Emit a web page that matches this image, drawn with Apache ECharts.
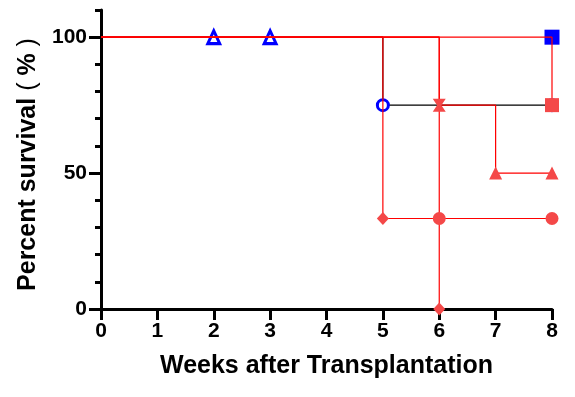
<!DOCTYPE html>
<html>
<head>
<meta charset="utf-8">
<script src="https://cdn.jsdelivr.net/npm/echarts@6/dist/echarts.min.js"></script>
<style>
  html, body { margin: 0; padding: 0; background: #fff; }
  #survivalChart { width: 575px; height: 397px; }
</style>
</head>
<body>
<div id="survivalChart"></div>
<script>
  // x axis: weeks 0..8, y axis: percent 0..110
  const weekTicks = [0, 1, 2, 3, 4, 5, 6, 7, 8]
  const percentLabels = [0, 50, 100]

  // step lines (Kaplan-Meier style), [week, percent]
  const blackSteps = [[0, 100], [5, 75], [8, 75]]
  const diamondSteps = [[0, 100], [5, 33.3], [6, 0]]
  const circleSteps = [[0, 100], [6, 33.3], [8, 33.3]]
  const triangleSteps = [[0, 100], [6, 75], [7, 50], [8, 50]]
  const squareSteps = [[0, 100], [8, 75]]

  // markers
  const blueTriMarks = [[2, 100], [3, 100]]
  const blueCircleMarks = [[5, 75], [8, 75]]
  const blueSquareMarks = [[8, 100]]
  const redDiamondMarks = [[5, 33.3], [6, 0]]
  const redCircleMarks = [[6, 33.3], [8, 33.3]]
  const redBowtieMarks = [[6, 75]]
  const redTriangleMarks = [[7, 50], [8, 50]]
  const redSquareMarks = [[8, 75]]

  const RED_LINE = '#ff0000'
  const RED_MARK = '#f44848'
  const BLUE = '#0000ff'
  const FONT = '"Liberation Sans", Arial, sans-serif'
  const BOWTIE = 'path://M0,0 L12,0 L8,6 L12,12 L0,12 L4,6 Z'

  function stepLine(data, color, z) {
    return {
      type: 'line',
      step: 'end',
      data: data,
      symbol: 'none',
      lineStyle: {color: color, width: 1.2},
      z: z,
      silent: true,
      animation: false
    }
  }

  function marks(data, symbol, size, style, z) {
    return {
      type: 'scatter',
      data: data,
      symbol: symbol,
      symbolSize: size,
      itemStyle: Object.assign({opacity: 1}, style),
      clip: false,
      z: z,
      animation: false
    }
  }

  const chart = echarts.init(document.getElementById('survivalChart'), null, {renderer: 'canvas'})

  const baseY = {
    type: 'value',
    position: 'left',
    min: 0,
    max: 110,
    interval: 10,
    axisLine: {show: true, lineStyle: {color: '#000', width: 3}},
    splitLine: {show: false}
  }

  // open blue markers: white fill with a thick blue outline
  const openBlue = {color: '#fff', borderColor: BLUE, borderWidth: 3}

  chart.setOption({
    backgroundColor: '#fff',
    grid: {left: 101, right: 23, top: 10, bottom: 88},
    xAxis: {
      type: 'value',
      min: 0,
      max: 8,
      interval: 1,
      name: 'Weeks after Transplantation',
      nameLocation: 'middle',
      nameGap: 45,
      nameTextStyle: {fontFamily: FONT, fontWeight: 'bold', fontSize: 25, color: '#000'},
      axisLine: {lineStyle: {color: '#000', width: 3}},
      axisTick: {show: true, length: 11, lineStyle: {color: '#000', width: 3}, customValues: weekTicks},
      axisLabel: {
        margin: 12,
        fontFamily: FONT,
        fontWeight: 'bold',
        fontSize: 21,
        color: '#000',
        customValues: weekTicks
      },
      splitLine: {show: false}
    },
    yAxis: [
      Object.assign({}, baseY, {
        name: '{b|Percent survival}{p| ( }{b|%}{p| )}',
        nameLocation: 'middle',
        nameGap: 59,
        nameRotate: 90,
        nameTextStyle: {
          padding: [0, 10, 0, 0],
          rich: {
            b: {fontFamily: FONT, fontWeight: 'bold', fontSize: 25, color: '#000'},
            p: {fontFamily: FONT, fontWeight: 'normal', fontSize: 25, color: '#000'}
          }
        },
        axisTick: {show: true, length: 6, lineStyle: {color: '#000', width: 3}},
        axisLabel: {
          margin: 14,
          fontFamily: FONT,
          fontWeight: 'bold',
          fontSize: 21,
          color: '#000',
          customValues: percentLabels
        }
      }),
      Object.assign({}, baseY, {
        axisLine: {show: false},
        axisTick: {show: true, length: 12, lineStyle: {color: '#000', width: 3}, customValues: percentLabels},
        axisLabel: {show: false}
      })
    ],
    series: [
      stepLine(blackSteps, '#000', 2),
      marks(blueTriMarks, 'triangle', [12, 13], openBlue, 3),
      marks(blueCircleMarks, 'circle', 11, openBlue, 3),
      marks(blueSquareMarks, 'rect', 15, {color: BLUE}, 3),
      stepLine(diamondSteps, RED_LINE, 4),
      stepLine(circleSteps, RED_LINE, 4),
      stepLine(triangleSteps, RED_LINE, 4),
      stepLine(squareSteps, RED_LINE, 4),
      marks(redDiamondMarks, 'diamond', [12, 13], {color: RED_MARK}, 5),
      marks(redCircleMarks, 'circle', 13, {color: RED_MARK}, 5),
      marks(redBowtieMarks, BOWTIE, 13, {color: RED_MARK}, 5),
      marks(redTriangleMarks, 'triangle', [13, 13], {color: RED_MARK}, 5),
      marks(redSquareMarks, 'rect', 14, {color: RED_MARK}, 5)
    ]
  })
</script>
</body>
</html>
